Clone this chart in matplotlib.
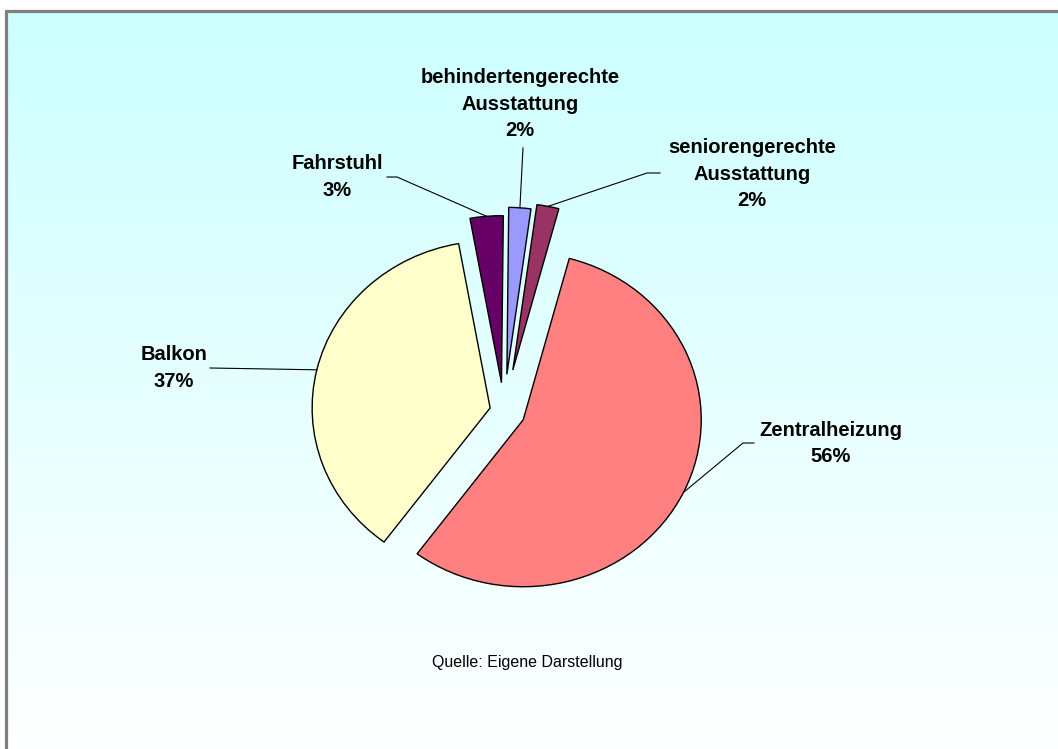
import matplotlib
matplotlib.use("Agg")
import matplotlib.pyplot as plt
import numpy as np

# data
labels = ["Zentralheizung", "Balkon", "Fahrstuhl",
          "behindertengerechte\nAusstattung", "seniorengerechte\nAusstattung"]
values = [56, 37, 3, 2, 2]
colors = ["#FF8080", "#FFFFCC", "#660066", "#9999FF", "#993366"]
explode = [0.12, 0.08, 0.17, 0.22, 0.25]

# layout (pixels, origin top-left)
W, H = 1058, 749
cx, cy = 504, 411          # pie centre
rx, ry = 178, 167          # pie is slightly wider than tall
label_pos = [(831, 443.5), (174, 368), (337, 177), (520, 104), (752, 174)]
leader_pts = [
    [(743, 443), (754, 443)],
    [(210, 368)],
    [(397, 177), (387, 177)],
    [(523, 148)],
    [(647, 173), (660, 173)],
]

plt.rcParams["font.family"] = ["Liberation Sans", "DejaVu Sans"]
fig = plt.figure(figsize=(W / 100, H / 100), dpi=100)

# background: cyan -> white gradient, grey frame on top and left
bg = fig.add_axes([0, 0, 1, 1])
bg.set_xlim(0, W)
bg.set_ylim(H, 0)
bg.axis("off")
t = np.linspace(0, 1, 256)[:, None, None]
cyan = np.array([0xCC, 0xFF, 0xFF]) / 255
grad = cyan + (1 - cyan) * t
bg.imshow(grad, extent=[7, W, H, 11.5], aspect="auto", interpolation="bilinear")
bg.plot([5, W], [10.5, 10.5], color="#808080", lw=2.3, solid_capstyle="butt")
bg.plot([5.6, 5.6], [9.5, H], color="#808080", lw=2.3, solid_capstyle="butt")

# pie axes, scaled so that radius 1 = rx / ry pixels
lim = 1.6
ax = fig.add_axes([(cx - lim * rx) / W, (H - cy - lim * ry) / H,
                   2 * lim * rx / W, 2 * lim * ry / H])
wedges, _ = ax.pie(values, colors=colors, explode=explode, startangle=75,
                   counterclock=False,
                   wedgeprops=dict(edgecolor="black", linewidth=1.0))
ax.set_aspect("auto")
ax.set_xlim(-lim, lim)
ax.set_ylim(-lim, lim)
ax.patch.set_alpha(0)
ax.axis("off")

inv = ax.transData.inverted()
total = sum(values)
for w, lab, val, (lx, ly), pts in zip(wedges, labels, values, label_pos, leader_pts):
    ang = np.deg2rad((w.theta1 + w.theta2) / 2)
    mx = w.center[0] + w.r * np.cos(ang)
    my = w.center[1] + w.r * np.sin(ang)
    path = [(mx, my)] + [tuple(inv.transform((px, H - py))) for px, py in pts]
    xs, ys = zip(*path)
    ax.plot(xs, ys, color="black", lw=0.8, clip_on=False)
    fig.text(lx / W, 1 - ly / H, f"{lab}\n{round(100 * val / total)}%",
             ha="center", va="center", fontsize=14.5, fontweight="bold",
             linespacing=1.5, color="black")

fig.text(527 / W, 1 - 663 / H, "Quelle: Eigene Darstellung",
         ha="center", va="center", fontsize=11.5, color="black")

fig.savefig("out.png", dpi=100)
